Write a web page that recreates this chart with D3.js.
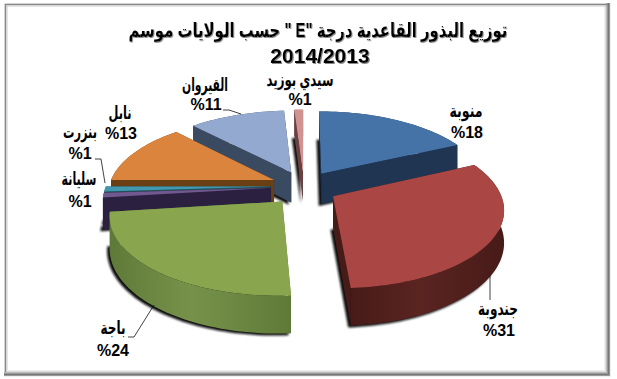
<!DOCTYPE html>
<html><head><meta charset="utf-8">
<script src="https://cdnjs.cloudflare.com/ajax/libs/d3/7.8.5/d3.min.js"></script>
<style>html,body{margin:0;padding:0;background:#fff}svg{display:block}
text{font-family:"Liberation Sans","DejaVu Sans",sans-serif;font-weight:bold;fill:#000}</style>
</head><body><svg id="c" width="617" height="379"></svg>
<script>
const categories=["منوبة","جندوبة","باجة","سليانة","بنزرت","نابل","القيروان","سيدي بوزيد"];
const values=[18,31,24,1,1,13,11,1];
const valueLabels=["%18","%31","%24","%1","%1","%13","%11","%1"];
const titleLines=['توزيع البذور القاعدية  درجة "E " حسب الولايات موسم','2014/2013'];
const topColors=["#4572a7","#aa4643","#89a54e","#71588f","#4198af","#db843d","#93a9cf","#d19392"];
const wallColors=["#1f3552","#471b18","#5f7a38","#2c2040","#1f4f5c","#6b3f14","#3a4a60","#6b4040"];
const wallLight=["#2a4568","#5a2421","#76924a","#3a2c50","#2a6070","#7e4c1b","#48596f","#805050"];
const paintOrder=[7,6,0,5,4,3,2,1];
const labelPos=[[466,117,33],[498,315,40],[113,334,25],[79,185,35],[80,138,34],[120,119,23],[205,91,46],[300,86,67]];
const valuePos=[[467,138],[499,336],[113,356],[80,207],[80,159],[121,139],[206,110],[300,105]];
const leaders=[null,[[490,275],[490,300]],[[154,305],[134,337],[128,337]],null,[[95,159],[101,159],[105,183]],null,[[223,110],[229,110],[241,114]],null];
const frameRings=[[611,"#eee"],[610,"#999"],[609,"#777"],[608,"#999"],[607,"#bbb"],[606,"#ddd"],[605,"#eee"]];

const svg=d3.select("#c"),defs=svg.append("defs");
const f=defs.append("filter").attr("id","blur").attr("x","-10%").attr("y","-10%").attr("width","120%").attr("height","120%");
f.append("feGaussianBlur").attr("stdDeviation",0.8);
const fs=defs.append("filter").attr("id","ts").attr("x","-5%").attr("y","-20%").attr("width","110%").attr("height","140%");
fs.append("feDropShadow").attr("dx",1).attr("dy",1).attr("stdDeviation",0.7).attr("flood-color","#888");

// frame: thin bevel top/left, thick fading bevel bottom/right
const frame=svg.append("g");
frameRings.forEach((r,k)=>{
  frame.append("rect").attr("x",4.5).attr("y",3.5).attr("width",r[0]-5).attr("height",r[0]-238).attr("fill",k===frameRings.length-1?"#fff":"none").attr("stroke",r[1]);
});
frame.append("path").attr("d","M5.5 372V4.5H608").attr("fill","none").attr("stroke","#888").attr("stroke-width",1.5);
frame.append("path").attr("d","M7 370V6H606").attr("fill","none").attr("stroke","#ccc").attr("stroke-width",1);

// projection of the pie disc, with perspective
const CX=304,CY=186,RX=165,RY=75,P=0.15,EXPLODE=0.2,FRONT=1.3,DEPTH=31;
const sx=d3.scaleLinear().domain([0,1]).range([0,RX]);
const sy=d3.scaleLinear().domain([0,1]).range([0,RY]);
const proj=(X,Y,drop)=>{const w=1-P*Y;return [CX+sx(X)/w,CY+sy(Y)/w+(drop?DEPTH/w:0)];};
const pie=d3.pie().sort(null)(values);
const line=d3.line();
const slices=pie.map((p,i)=>{
  const b=(p.startAngle+p.endAngle)/2,ex=EXPLODE*Math.sin(b);
  let ey=-EXPLODE*Math.cos(b); if(ey>0) ey*=FRONT;
  const n=Math.max(3,Math.ceil((p.endAngle-p.startAngle)/0.03));
  const as=d3.range(n+1).map(k=>p.startAngle+(p.endAngle-p.startAngle)*k/n);
  const rim=d=>as.map(a=>proj(ex+Math.sin(a),ey-Math.cos(a),d));
  return {i,apex:proj(ex,ey,false),apexD:proj(ex,ey,true),rim:rim(false),rimD:rim(true)};
});
const drawOrder=paintOrder.map(i=>slices[i]);
const g=svg.append("g");
drawOrder.forEach(s=>{
  const gid="w"+s.i,grad=defs.append("linearGradient").attr("id",gid);
  [[0,wallColors[s.i]],[.45,wallLight[s.i]],[1,wallColors[s.i]]].forEach(o=>grad.append("stop").attr("offset",o[0]).attr("stop-color",o[1]));
  const wallOuter=[...s.rim,...s.rimD.slice().reverse()];
  const wallA=[s.apex,s.rim[0],s.rimD[0],s.apexD];
  const wallB=[s.apex,s.rim[s.rim.length-1],s.rimD[s.rimD.length-1],s.apexD];
  const sg=g.append("g");
  sg.append("path").attr("d",line([...s.rimD,s.apexD])+"Z").attr("transform","translate(-2.5,2)").attr("fill","#111").attr("filter","url(#blur)");
  sg.append("path").attr("d",line(wallOuter)+"Z").attr("fill",`url(#${gid})`);
  [wallA,wallB].forEach(w=>sg.append("path").attr("d",line(w)+"Z").attr("fill",wallColors[s.i]));
  sg.append("path").attr("d",line([s.apex,...s.rim])+"Z").attr("fill",topColors[s.i]);
});

// leader lines
leaders.forEach(l=>{if(l)svg.append("path").attr("d",line(l)).attr("fill","none").attr("stroke","#111").attr("stroke-width",0.8);});

// squeeze a text horizontally to a target width, around its centre
function fit(sel,x,y,w){
  sel.attr("text-anchor","middle");
  const nat=sel.node().getComputedTextLength();
  sel.attr("transform",`translate(${x},${y}) scale(${w/nat},1)`);
}
// labels
categories.forEach((c,i)=>{
  const t=svg.append("text").attr("font-size",18).attr("direction","rtl").text(c);
  fit(t,labelPos[i][0],labelPos[i][1],labelPos[i][2]);
  svg.append("text").attr("x",valuePos[i][0]).attr("y",valuePos[i][1]).attr("text-anchor","middle").attr("font-size",16).attr("direction","ltr").text(valueLabels[i]);
});
// title
const t1=svg.append("text").attr("font-size",20).attr("direction","rtl").attr("filter","url(#ts)").text(titleLines[0]);
fit(t1,318,37,379);
svg.append("text").attr("x",320).attr("y",63).attr("text-anchor","middle").attr("font-size",21).attr("filter","url(#ts)").text(titleLines[1]);
</script></body></html>
